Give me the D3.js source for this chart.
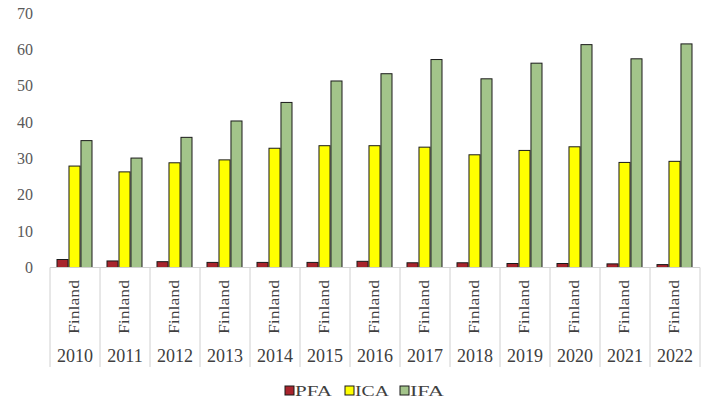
<!DOCTYPE html>
<html><head><meta charset="utf-8">
<script src="https://cdn.jsdelivr.net/npm/d3@7"></script>
<style>body{margin:0;background:#fff}svg{display:block;font-family:"Liberation Serif","Times New Roman",serif}</style>
</head><body><svg id="c" width="710" height="401"></svg>
<script>
const years = ["2010","2011","2012","2013","2014","2015","2016","2017","2018","2019","2020","2021","2022"];
const country = "Finland";
const series = ["PFA","ICA","IFA"];
const PFA = [2.2,1.8,1.6,1.4,1.4,1.4,1.7,1.3,1.3,1.1,1.1,1.0,0.8];
const ICA = [27.9,26.3,28.8,29.6,32.8,33.5,33.5,33.1,31.0,32.2,33.2,28.9,29.2];
const IFA = [34.9,30.1,35.8,40.3,45.4,51.3,53.3,57.2,51.9,56.2,61.3,57.4,61.5];
const yTicks = [0,10,20,30,40,50,60,70];
const colors = {PFA:"#A8242C", ICA:"#FFFF00", IFA:"#A3C48A"};
const values = {PFA, ICA, IFA};

const svg = d3.select("#c");
const y = d3.scaleLinear().domain([0,70]).range([267.5,13]);
const x = d3.scaleBand().domain(years).range([50,700]).padding(0);
const xs = d3.scaleBand().domain(series).range([7,42]).paddingInner(0.08);

// y tick labels
svg.append("g").selectAll("text").data(yTicks).join("text")
  .attr("x",33).attr("y",d=>y(d)).attr("dy","0.35em").attr("text-anchor","end")
  .attr("font-size",16).attr("fill","#595959").text(d=>d);

// bars
series.forEach(s=>{
  svg.append("g").selectAll("rect").data(years).join("rect")
    .attr("x",(d)=>x(d)+xs(s)).attr("width",xs.bandwidth())
    .attr("y",(d,i)=>y(values[s][i])).attr("height",(d,i)=>y(0)-y(values[s][i]))
    .attr("fill",colors[s]).attr("stroke","#1a1a1a").attr("stroke-width",1);
});

// baseline + separators
svg.append("line").attr("x1",50).attr("x2",700).attr("y1",y(0)).attr("y2",y(0)).attr("stroke","#d0d0d0");
svg.append("g").selectAll("line").data(years.concat(["end"])).join("line")
  .attr("x1",(d,i)=>50+i*x.bandwidth()).attr("x2",(d,i)=>50+i*x.bandwidth())
  .attr("y1",y(0)).attr("y2",367).attr("stroke","#d0d0d0");

// country labels (rotated)
svg.append("g").selectAll("text").data(years).join("text")
  .attr("transform",d=>`translate(${x(d)+x.bandwidth()/2+4},307) rotate(-90)`)
  .attr("text-anchor","middle").attr("font-size",14).attr("fill","#404040")
  .attr("textLength",54).attr("lengthAdjust","spacingAndGlyphs").text(country);

// year labels
svg.append("g").selectAll("text").data(years).join("text")
  .attr("x",d=>x(d)+x.bandwidth()/2).attr("y",356).attr("dy","0.35em")
  .attr("text-anchor","middle").attr("font-size",18).attr("fill","#404040").text(d=>d);

// legend
const lx = [285,345,400];
const lw = [37,34,34];
const lg = svg.append("g");
series.forEach((s,i)=>{
  lg.append("rect").attr("x",lx[i]).attr("y",386).attr("width",9).attr("height",9)
    .attr("fill",colors[s]).attr("stroke","#1a1a1a").attr("stroke-width",1);
  lg.append("text").attr("x",lx[i]+10).attr("y",391).attr("dy","0.35em")
    .attr("font-size",15).attr("fill","#404040")
    .attr("textLength",lw[i]).attr("lengthAdjust","spacingAndGlyphs").text(s);
});
</script></body></html>
